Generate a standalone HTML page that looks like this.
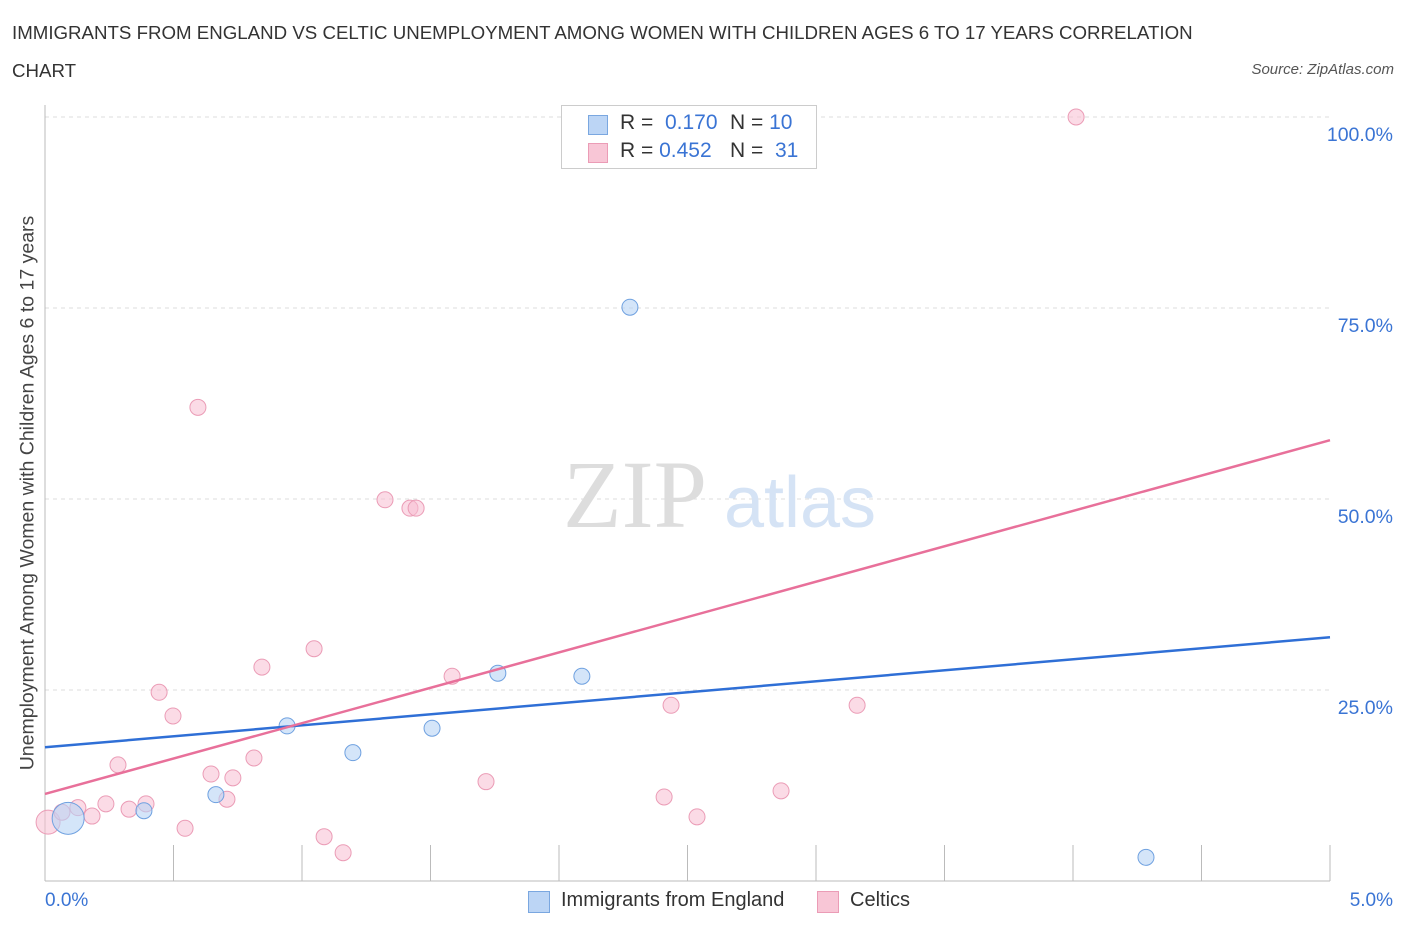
<!DOCTYPE html>
<html><head><meta charset="utf-8">
<style>
body{margin:0;background:#fff;font-family:"Liberation Sans",sans-serif;}
#wrap{position:relative;width:1406px;height:930px;overflow:hidden;}
.t{position:absolute;white-space:nowrap;}
</style></head>
<body>
<div id="wrap">
<div class="t" style="left:12px;top:14px;font-size:18.7px;color:#333;line-height:38px;">IMMIGRANTS FROM ENGLAND VS CELTIC UNEMPLOYMENT AMONG WOMEN WITH CHILDREN AGES 6 TO 17 YEARS CORRELATION<br>CHART</div>
<div class="t" style="right:12px;top:61px;font-size:15px;color:#555;font-style:italic;">Source: ZipAtlas.com</div>
<svg id="plot" width="1406" height="930" style="position:absolute;left:0;top:0"></svg>
</div>
<script>
const xTicks=[0,0.5,1,1.5,2,2.5,3,3.5,4,4.5,5];
const yTicks=[25,50,75,100];
const yTickLabels=["25.0%","50.0%","75.0%","100.0%"];
const blueX=[0.09,0.385,0.665,0.942,1.198,1.506,1.762,2.089,2.276,4.284];
const blueY=[8.2,9.2,11.3,20.3,16.8,20.0,27.2,26.8,75.1,3.1];
const pinkX=[0.012,0.066,0.128,0.183,0.237,0.284,0.327,0.393,0.444,0.498,0.545,0.595,0.646,0.708,0.731,0.813,0.844,1.047,1.086,1.16,1.323,1.42,1.444,1.584,1.716,2.409,2.436,2.537,2.864,3.16,4.012];
const pinkY=[7.7,9.0,9.6,8.5,10.1,15.2,9.4,10.1,24.7,21.6,6.9,62.0,14.0,10.7,13.5,16.1,28.0,30.4,5.8,3.7,49.9,48.8,48.8,26.8,13.0,11.0,23.0,8.4,11.8,23.0,100];
const blueTrend=[17.5,31.9];
const pinkTrend=[11.4,57.7];
const X0=45,X1=1330,Y0=881,Y100=117;
const sx=v=>X0+(X1-X0)*v/5;
const sy=v=>Y0-(Y0-Y100)*v/100;
const svg=document.getElementById('plot');
const NS='http://www.w3.org/2000/svg';
function mk(tag,attrs){const e=document.createElementNS(NS,tag);for(const k in attrs)e.setAttribute(k,attrs[k]);svg.appendChild(e);return e;}
yTicks.forEach((t,i)=>{
 const g=mk('line',{x1:X0,x2:X1,y1:sy(t),y2:sy(t),stroke:'#ddd','stroke-dasharray':'4,4'});
 
 
 const l=mk('text',{x:1393,y:sy(t)+24,'text-anchor':'end','font-size':19.5,fill:'#3a74d4','font-family':'Liberation Sans'});
 l.textContent=yTickLabels[i];
 
 
});
const ax=mk('line',{x1:X0,x2:X0,y1:105,y2:Y0,stroke:'#bbb'});


const bx=mk('line',{x1:X0,x2:X1,y1:Y0,y2:Y0,stroke:'#bbb'});


xTicks.forEach(t=>{
 const k=mk('line',{x1:sx(t),x2:sx(t),y1:845,y2:Y0,stroke:'#bbb'});
 
 
});
const wm1=mk('text',{x:635,y:527,'text-anchor':'middle','font-size':96,fill:'#ddd','font-family':'Liberation Serif'});
wm1.textContent='ZIP';


const wm2=mk('text',{x:800,y:527,'text-anchor':'middle','font-size':72,fill:'#d5e3f5','font-family':'Liberation Sans'});
wm2.textContent='atlas';


pinkX.forEach((x,i)=>{
 const c=mk('circle',{cx:sx(x),cy:sy(pinkY[i]),r:i===0?12:8,fill:'rgba(247,190,210,0.55)',stroke:'#eb9cb6','stroke-width':1});
 
 
});
blueX.forEach((x,i)=>{
 const c=mk('circle',{cx:sx(x),cy:sy(blueY[i]),r:i===0?16:8,fill:'rgba(184,211,245,0.6)',stroke:'#6fa1e0','stroke-width':1});
 
 
});
const bl=mk('line',{x1:sx(0),y1:sy(blueTrend[0]),x2:sx(5),y2:sy(blueTrend[1]),stroke:'#2f6fd6','stroke-width':2.5});


const pl=mk('line',{x1:sx(0),y1:sy(pinkTrend[0]),x2:sx(5),y2:sy(pinkTrend[1]),stroke:'#e8709a','stroke-width':2.5});


</script>
<div class="t" style="left:45px;top:890px;font-size:19px;color:#3a74d4;">0.0%</div>
<div class="t" style="right:13px;top:890px;font-size:19px;color:#3a74d4;">5.0%</div>
<div class="t" style="left:28px;top:493px;font-size:19.5px;color:#444;transform:translate(-50%,-50%) rotate(-90deg);">Unemployment Among Women with Children Ages 6 to 17 years</div>
<div style="position:absolute;left:561px;top:105px;width:254px;height:62px;border:1px solid #ccc;background:#fff;font-size:21px;color:#333;">
 <div style="position:absolute;left:26px;top:9px;width:18px;height:18px;background:#bcd5f5;border:1px solid #7aa7e0;"></div>
 <div class="t" style="left:58px;top:5px;">R = <span style="color:#3a74d4">&nbsp;0.170</span></div>
 <div class="t" style="left:168px;top:5px;">N = <span style="color:#3a74d4">10</span></div>
 <div style="position:absolute;left:26px;top:37px;width:18px;height:18px;background:#f8c6d6;border:1px solid #eb9cb6;"></div>
 <div class="t" style="left:58px;top:33px;">R = <span style="color:#3a74d4">0.452</span></div>
 <div class="t" style="left:168px;top:33px;">N = <span style="color:#3a74d4">&nbsp;31</span></div>
</div>
<div style="position:absolute;left:528px;top:891px;width:20px;height:20px;background:#bcd5f5;border:1px solid #7aa7e0;"></div>
<div class="t" style="left:561px;top:889px;font-size:20px;color:#333;">Immigrants from England</div>
<div style="position:absolute;left:817px;top:891px;width:20px;height:20px;background:#f8c6d6;border:1px solid #eb9cb6;"></div>
<div class="t" style="left:850px;top:889px;font-size:20px;color:#333;">Celtics</div>
</body></html>
